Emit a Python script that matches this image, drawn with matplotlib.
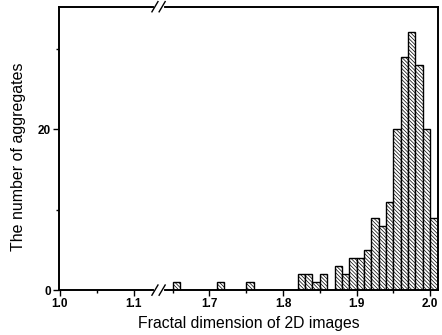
import matplotlib
matplotlib.use('Agg')
import matplotlib.pyplot as plt

# histogram of fractal dimensions, bins 0.01 wide
bin_starts = [1.65, 1.71, 1.75,
              1.82, 1.83, 1.84, 1.85, 1.86, 1.87, 1.88, 1.89, 1.90, 1.91,
              1.92, 1.93, 1.94, 1.95, 1.96, 1.97, 1.98, 1.99, 2.00]
counts = [1, 1, 1,
          2, 2, 1, 2, 0, 3, 2, 4, 4, 5,
          9, 8, 11, 20, 29, 32, 28, 20, 9]
bin_width = 0.01

major_ticks = [1.0, 1.1, 1.7, 1.8, 1.9, 2.0]
minor_ticks = [1.05, 1.65, 1.75, 1.85, 1.95]

# axis break: values above 1.5 are shifted left
OFFSET = 0.497


def shift(v):
    return v - OFFSET if v > 1.5 else v


plt.rcParams['font.family'] = ['Liberation Sans', 'DejaVu Sans']
plt.rcParams['hatch.color'] = '0.55'
plt.rcParams['hatch.linewidth'] = 0.5

fig = plt.figure(figsize=(4.42, 3.35), dpi=100)
ax = fig.add_axes([0.134, 0.134, 0.856, 0.846])

xs = [shift(b) for b in bin_starts]
ax.bar(xs, counts, width=bin_width, align='edge', facecolor='white',
       edgecolor='black', linewidth=1.0, hatch='\\' * 9)

ax.set_xlim(0.999, 2.01 - OFFSET)
ax.set_ylim(0, 35.2)

ax.set_xticks([shift(t) for t in major_ticks])
ax.set_xticklabels([f'{t:.1f}' for t in major_ticks])
ax.set_xticks([shift(t) for t in minor_ticks], minor=True)
ax.set_yticks([0, 20])
ax.set_yticks([10, 30], minor=True)

ax.tick_params(axis='both', which='major', direction='out', length=4,
               width=1.0, labelsize=8.5, pad=2)
ax.tick_params(axis='both', which='minor', direction='out', length=2.5, width=1.0)
for lab in ax.get_xticklabels() + ax.get_yticklabels():
    lab.set_fontweight('bold')

for sp in ax.spines.values():
    sp.set_linewidth(1.4)

# break marks on the top and bottom spines
for y in (0, 1):
    ax.plot([0.257, 0.272], [y, y], transform=ax.transAxes, color='white',
            linewidth=3, clip_on=False, zorder=5)
    for x in (0.253, 0.272):
        ax.plot([x - 0.008, x + 0.008], [y - 0.018, y + 0.018],
                transform=ax.transAxes, color='black', linewidth=1.0,
                clip_on=False, zorder=6)

ax.set_xlabel('Fractal dimension of 2D images', fontsize=11.3, labelpad=4)
ax.set_ylabel('The number of aggregates', fontsize=11.5)
ax.yaxis.set_label_coords(-0.088, 0.47)

fig.savefig('out.png', dpi=100)
